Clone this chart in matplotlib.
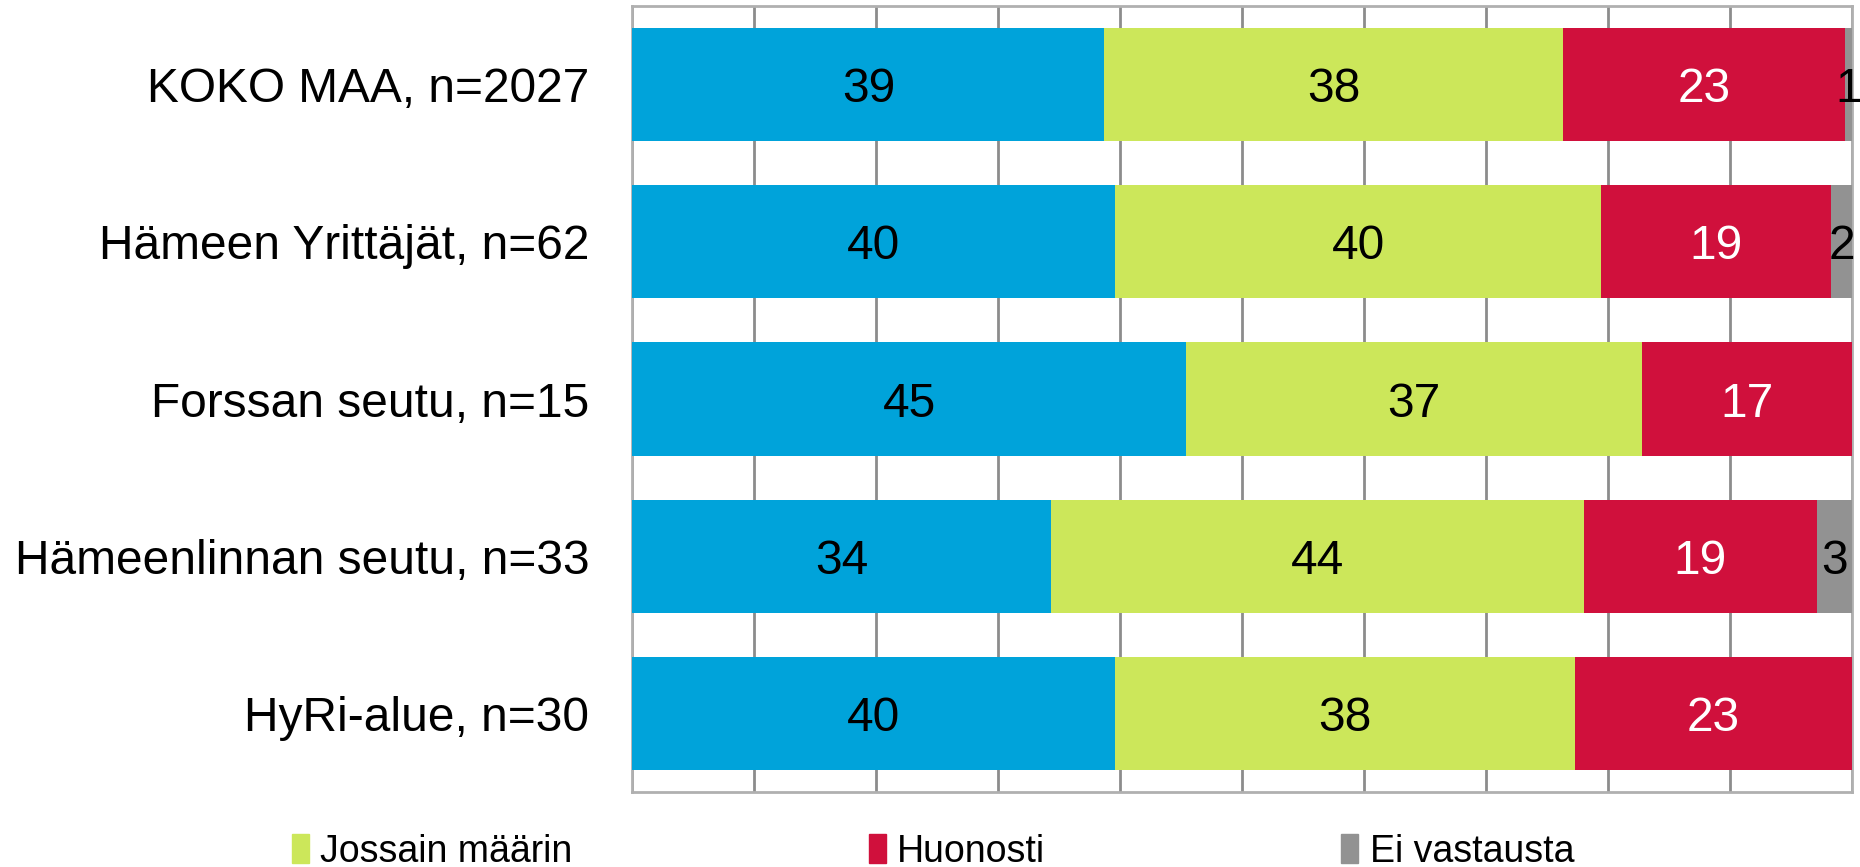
import matplotlib.pyplot as plt
from matplotlib.patches import Patch

plt.rcParams['font.family'] = ['Liberation Sans', 'DejaVu Sans']

# rivit ylhäältä alas
categories = ["KOKO MAA, n=2027", "Hämeen Yrittäjät, n=62", "Forssan seutu, n=15",
              "Hämeenlinnan seutu, n=33", "HyRi-alue, n=30"]
series_names = ["Hyvin", "Jossain määrin", "Huonosti", "Ei vastausta"]
hyvin = [38.7, 39.6, 45.4, 34.3, 39.6]
jossain = [37.6, 39.8, 37.4, 43.7, 37.7]
huonosti = [23.1, 18.9, 17.2, 19.1, 22.7]
ei_vastausta = [0.6, 1.7, 0.0, 2.9, 0.0]

colors = ["#00A3DA", "#CCE75A", "#D0103C", "#929292"]
text_colors = ["black", "black", "white", "black"]

fig = plt.figure(figsize=(18.6, 8.67), dpi=100)
ax = fig.add_axes([0.340, 0.0865, 0.6557, 0.9065])

y = list(range(len(categories)))
left = [0.0] * len(categories)
for vals, col, tcol in zip([hyvin, jossain, huonosti, ei_vastausta], colors, text_colors):
    ax.barh(y, vals, left=left, height=0.72, color=col, zorder=3)
    for i, v in enumerate(vals):
        if v > 0:
            ax.text(left[i] + v / 2, i, f"{v:.0f}", ha="center", va="center_baseline",
                    fontsize=34.5, color=tcol, zorder=4, clip_on=False)
    left = [l + v for l, v in zip(left, vals)]

ax.set_xlim(0, 100)
ax.set_ylim(len(categories) - 0.5, -0.5)
ax.set_xticks(range(0, 101, 10))
ax.set_xticklabels([])
ax.set_yticks(y)
ax.set_yticklabels(categories, fontsize=34.5)
ax.tick_params(length=0, pad=31)
ax.grid(axis="x", color="#8c8c8c", linewidth=2, zorder=0)
for s in ax.spines.values():
    s.set_color("#b0b0b0")
    s.set_linewidth(2)

# sininen selite jää kuvan ulkopuolelle, näytetään vain kolme
handles = [Patch(color=c) for c in colors[1:]]
fig.legend(handles, series_names[1:], loc="center left", bbox_to_anchor=(0.139, 0.0175),
           ncol=3, frameon=False, fontsize=27, handlelength=0.45, handleheight=0.8,
           handletextpad=0.3, columnspacing=7.9)

fig.savefig("out.png", dpi=100)
